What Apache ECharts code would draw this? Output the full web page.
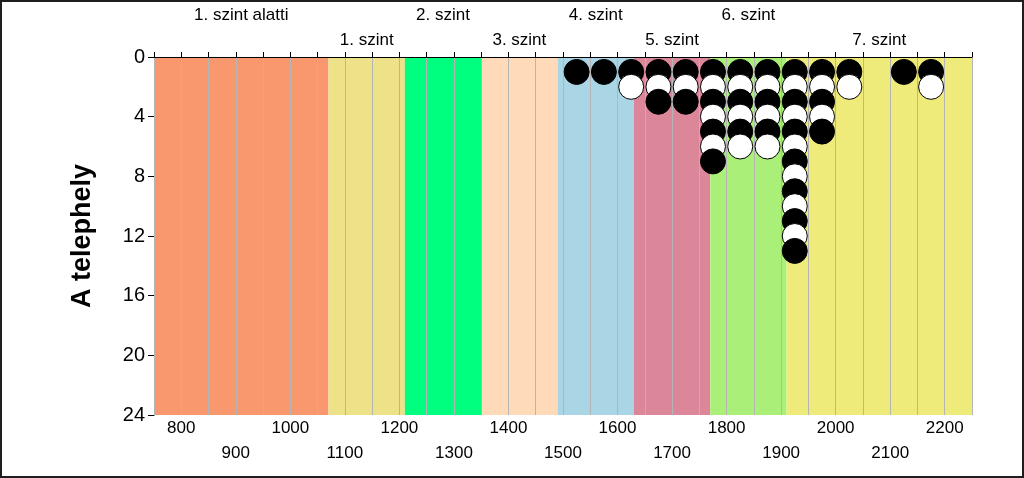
<!DOCTYPE html>
<html>
<head>
<meta charset="utf-8">
<script src="https://cdn.jsdelivr.net/npm/echarts@6/dist/echarts.min.js"></script>
<style>
  html, body { margin: 0; padding: 0; background: #fff; }
  #wrap { position: relative; width: 1024px; height: 478px; }
  #chart { position: absolute; left: 0; top: 0; width: 1024px; height: 478px; }
  #frame { position: absolute; left: 0; top: 0; width: 1024px; height: 478px;
           box-sizing: border-box; border: 2px solid #1e1e1e; pointer-events: none; }
</style>
</head>
<body>
<div id="wrap">
  <div id="chart"></div>
  <div id="frame"></div>
</div>
<script>
// level bands (x ranges) and their names
const bandNames  = ['1. szint alatti', '1. szint', '2. szint', '3. szint', '4. szint', '5. szint', '6. szint', '7. szint']
const bandStarts = [750, 1070, 1210, 1350, 1490, 1630, 1770, 1910]
const bandEnds   = [1070, 1210, 1350, 1490, 1630, 1770, 1910, 2250]
const bandColors = ['#f9976f', '#ede287', '#00ff7f', '#ffdab9', '#a9d5e4', '#db8699', '#aaef78', '#efeb7a']

// dot plot: bin centres and number of stacked dots in each
const bins   = [1525, 1575, 1625, 1675, 1725, 1775, 1825, 1875, 1925, 1975, 2025, 2075, 2125, 2175]
const counts = [1, 1, 2, 3, 3, 7, 6, 6, 13, 5, 2, 0, 1, 2]

const yTicks = [0, 4, 8, 12, 16, 20, 24]

// one point per dot, top to bottom, so each lower dot is painted over the one above
const dots = []
bins.forEach((b, i) => {
	for (let k = 1; k <= counts[i]; k++) dots.push([b, k])
})

const bands = bandNames.map((name, i) => [
	{
		name: name,
		xAxis: bandStarts[i],
		itemStyle: { color: bandColors[i], opacity: 1 },
		label: { distance: i % 2 === 0 ? 33 : 8 }
	},
	{ xAxis: bandEnds[i] }
])

const font = 'Arial, "Liberation Sans", sans-serif'

const chart = echarts.init(document.getElementById('chart'))
chart.setOption({
	animation: false,
	grid: { left: 154, right: 52, top: 57, bottom: 63 },
	xAxis: [{
		type: 'value',
		position: 'bottom',
		min: 750,
		max: 2250,
		interval: 50,
		axisLine: { show: true, lineStyle: { color: '#000', width: 1 } },
		axisTick: { show: true, length: 3, lineStyle: { color: '#000' } },
		splitLine: { show: false },
		axisLabel: {
			margin: 1,
			color: '#000',
			fontSize: 17,
			fontFamily: font,
			lineHeight: 25,
			formatter: v => v % 200 === 0 ? String(v) : (v % 100 === 0 ? '\n' + v : '')
		}
	}, {
		type: 'value',
		position: 'top',
		min: 750,
		max: 2250,
		interval: 50,
		z: 2,
		axisLine: { show: true, lineStyle: { color: '#000', width: 1 } },
		axisTick: { show: true, length: 5, lineStyle: { color: '#000' } },
		axisLabel: { show: false },
		splitLine: { show: true, lineStyle: { color: '#b5b5b5', width: 1 } }
	}],
	yAxis: {
		type: 'value',
		inverse: true,
		min: 0,
		max: 24,
		interval: 4,
		name: 'A telephely',
		nameLocation: 'middle',
		nameGap: 58,
		nameTextStyle: { color: '#000', fontSize: 27, fontWeight: 'bold', fontFamily: font },
		axisLine: { show: true, lineStyle: { color: '#000', width: 1 } },
		axisTick: { show: true, length: 6, lineStyle: { color: '#000' } },
		splitLine: { show: false },
		axisLabel: {
			margin: 9,
			color: '#000',
			fontSize: 20,
			fontFamily: font,
			formatter: v => yTicks.includes(v) ? String(v) : ''
		}
	},
	series: [{
		type: 'scatter',
		z: 1,
		data: [],
		markArea: {
			silent: true,
			label: {
				show: true,
				position: 'top',
				color: '#000',
				fontSize: 17,
				fontFamily: font
			},
			data: bands
		}
	}, {
		type: 'scatter',
		z: 3,
		symbolSize: 25,
		itemStyle: {
			color: p => p.value[1] % 2 === 1 ? '#000' : '#fff',
			borderColor: '#000',
			borderWidth: 1,
			opacity: 1
		},
		data: dots
	}]
})
</script>
</body>
</html>
